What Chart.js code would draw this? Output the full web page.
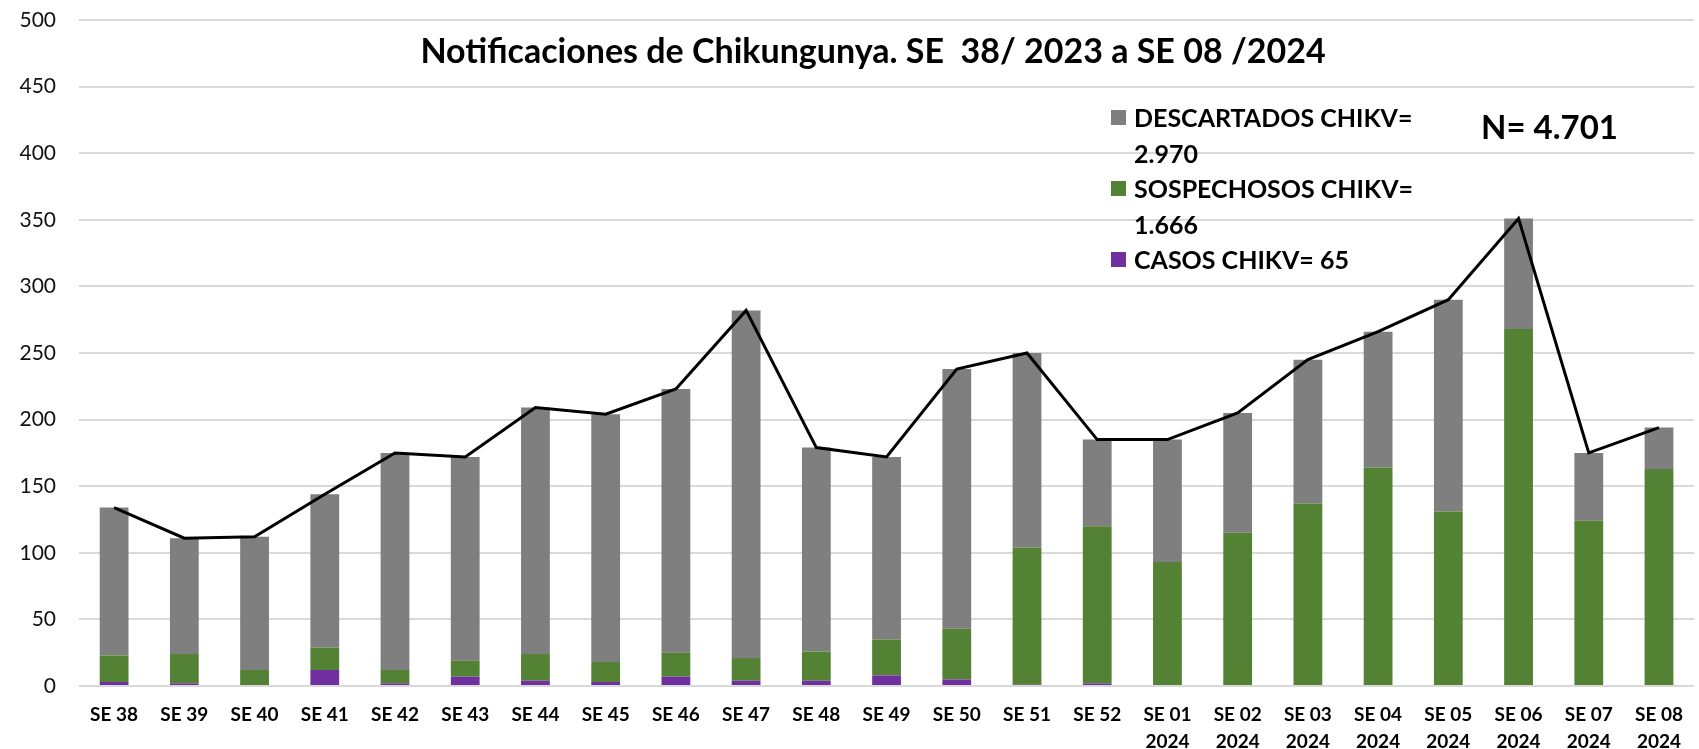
<!DOCTYPE html>
<html>
<head>
<meta charset="utf-8">
<script src="https://cdn.jsdelivr.net/npm/chart.js@4.4.1/dist/chart.umd.min.js"></script>
<style>
    html, body { margin: 0; padding: 0; background: #fff; }
    #wrap { position: relative; width: 1699px; height: 749px; font-family: Lato, 'Open Sans', sans-serif; }
    #chart { position: absolute; left: 0; top: 0; }
    .title { position: absolute; left: 373px; width: 1000px; top: 29px; line-height: 42px;
             text-align: center; font-weight: bold; font-size: 34px; color: #000; }
    .total { position: absolute; left: 1481px; top: 104px; line-height: 44px;
             font-weight: bold; font-size: 33px; color: #000; }
    .legend { position: absolute; left: 1111px; top: 100px; font-weight: bold; font-size: 25px;
              line-height: 35.5px; color: #000; }
    .legend div { position: relative; padding-left: 23px; white-space: nowrap; }
    .legend span { position: absolute; left: 0; top: 10px; width: 15px; height: 15px; }
</style>
</head>
<body>
<div id="wrap">
    <canvas id="chart" width="1699" height="749"></canvas>
    <div class="title">Notificaciones de Chikungunya. SE&nbsp;&nbsp;38/ 2023 a SE 08 /2024</div>
    <div class="total">N= 4.701</div>
    <div class="legend" id="legend"></div>
</div>
<script>
// semanas epidemiologicas (SE); las de 2024 llevan el año en una segunda linea
const weeks = ['SE 38', 'SE 39', 'SE 40', 'SE 41', 'SE 42', 'SE 43', 'SE 44', 'SE 45', 'SE 46', 'SE 47',
    'SE 48', 'SE 49', 'SE 50', 'SE 51', 'SE 52', 'SE 01', 'SE 02', 'SE 03', 'SE 04', 'SE 05',
    'SE 06', 'SE 07', 'SE 08'];
const years = ['', '', '', '', '', '', '', '', '', '', '', '', '', '', '',
    '2024', '2024', '2024', '2024', '2024', '2024', '2024', '2024'];

const casos = [3, 2, 0, 12, 2, 7, 4, 3, 7, 4, 4, 8, 5, 1, 2, 0, 0, 0, 0, 0, 0, 0, 0];
const sospechosos = [20, 22, 12, 17, 10, 12, 20, 15, 18, 17, 22, 27, 38, 103, 118, 93, 115, 137, 164, 131, 268, 124, 163];
const descartados = [111, 87, 100, 115, 163, 153, 185, 186, 198, 261, 153, 137, 195, 146, 65, 92, 90, 108, 102, 159, 83, 51, 31];

const yTicks = [0, 50, 100, 150, 200, 250, 300, 350, 400, 450, 500];

const legendItems = [
    {lines: ['DESCARTADOS CHIKV=', '2.970'], color: '#7f7f7f'},
    {lines: ['SOSPECHOSOS CHIKV=', '1.666'], color: '#548235'},
    {lines: ['CASOS CHIKV= 65'], color: '#7030a0'}
];

function buildLabels() {
    return weeks.map((w, i) => years[i] ? [w, years[i]] : w);
}

function buildTotals() {
    return weeks.map((w, i) => casos[i] + sospechosos[i] + descartados[i]);
}

function buildLegend() {
    let el = document.getElementById('legend');
    legendItems.forEach(item => {
        item.lines.forEach((text, j) => {
            let row = document.createElement('div');
            if (j === 0) {
                let box = document.createElement('span');
                box.style.background = item.color;
                row.appendChild(box);
            }
            row.appendChild(document.createTextNode(text));
            el.appendChild(row);
        });
    });
}

function barSet(label, data, colour) {
    return {
        type: 'bar',
        label: label,
        data: data,
        backgroundColor: colour,
        borderWidth: 0,
        stack: 'a',
        order: 1,
        barPercentage: 0.41,
        categoryPercentage: 1
    };
}

function generateGraph() {
    let el = document.getElementById('chart');
    let config = {
        type: 'bar',
        data: {
            labels: buildLabels(),
            datasets: [
                barSet('CASOS CHIKV', casos, '#7030a0'),
                barSet('SOSPECHOSOS CHIKV', sospechosos, '#548235'),
                barSet('DESCARTADOS CHIKV', descartados, '#7f7f7f'),
                {
                    type: 'line',
                    label: 'Total',
                    data: buildTotals(),
                    borderColor: '#000',
                    borderWidth: 3,
                    pointRadius: 0,
                    tension: 0,
                    stack: 'total',
                    order: 0
                }
            ]
        },
        options: {
            responsive: false,
            animation: false,
            layout: {padding: {top: 20, right: 0, bottom: 0, left: 0}},
            plugins: {
                legend: {display: false},
                tooltip: {enabled: false}
            },
            scales: {
                x: {
                    stacked: true,
                    grid: {display: false, drawTicks: false},
                    border: {display: false},
                    ticks: {
                        color: '#000',
                        padding: 16,
                        maxRotation: 0,
                        autoSkip: false,
                        font: {family: 'Lato', size: 19, weight: 'bold', lineHeight: 1.4}
                    },
                    afterFit: s => { s.height = 63; }
                },
                y: {
                    stacked: true,
                    min: 0,
                    max: 500,
                    grid: {color: '#d9d9d9', lineWidth: 2, drawTicks: false},
                    border: {display: false},
                    afterBuildTicks: s => { s.ticks = yTicks.map(v => ({value: v})); },
                    ticks: {
                        color: '#111',
                        padding: 23,
                        font: {family: 'Lato', size: 21}
                    },
                    // fixed axis width; drop the label overhang so the 500 line sits at the top padding
                    afterFit: s => {
                        s.width = 79;
                        s.paddingTop = 0;
                        s.paddingBottom = 0;
                    }
                }
            }
        }
    };
    return new Chart(el, config);
}

buildLegend();
generateGraph();
</script>
</body>
</html>
